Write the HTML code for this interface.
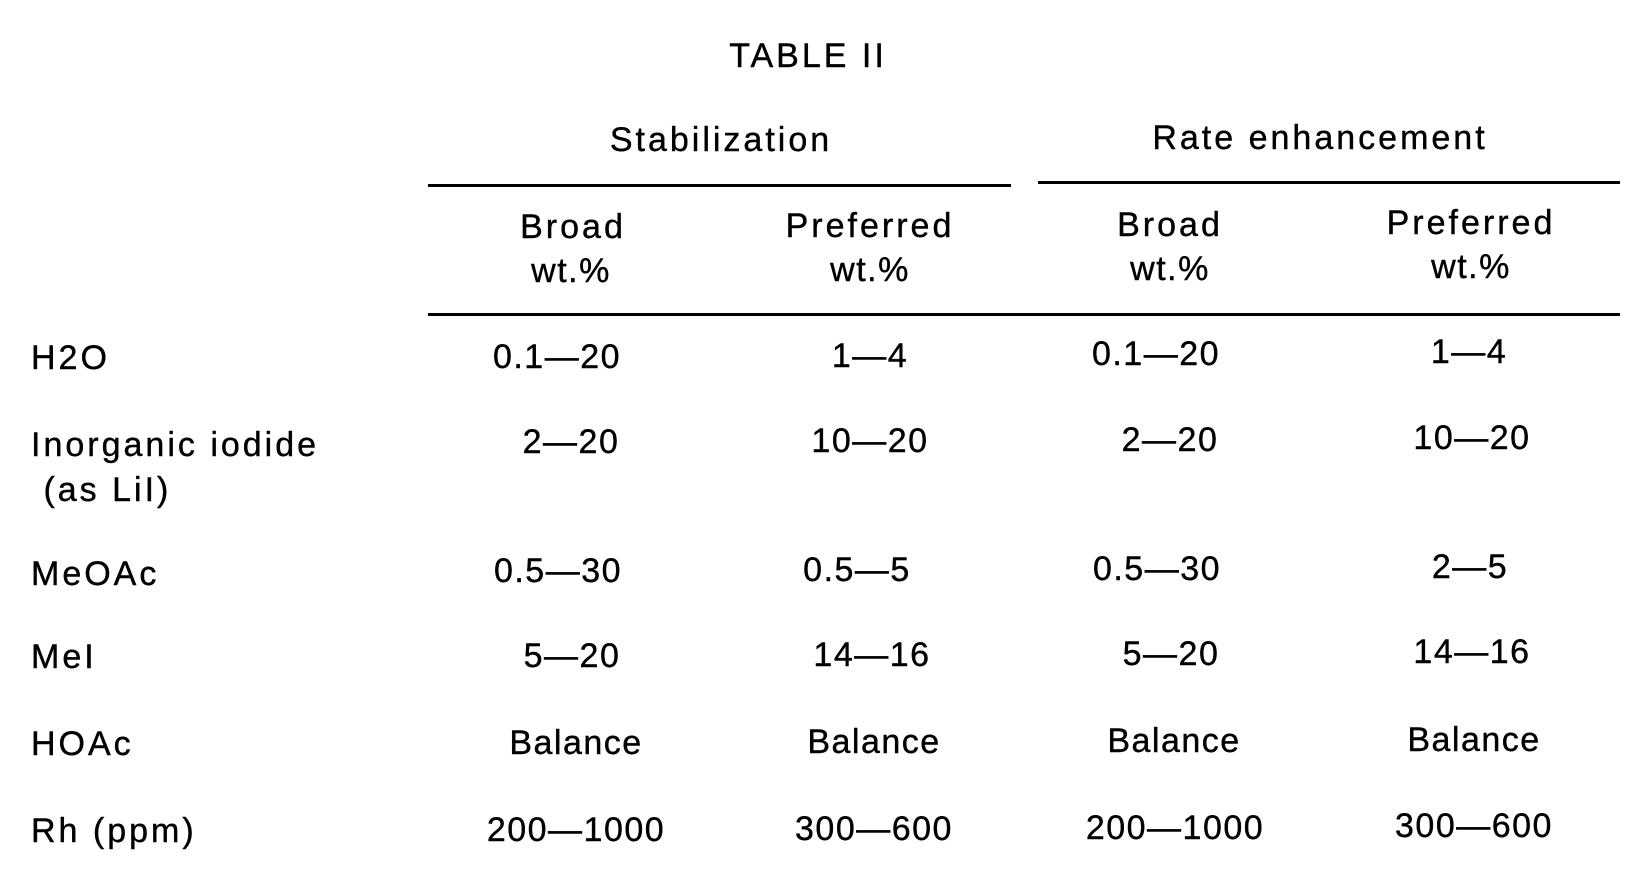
<!DOCTYPE html>
<html><head><meta charset="utf-8"><style>
html,body{margin:0;padding:0;background:#fff;}
body{width:1630px;height:873px;position:relative;overflow:hidden;font-family:"Liberation Sans",sans-serif;color:#000;}
.t{position:absolute;font-size:34px;line-height:1;white-space:nowrap;letter-spacing:1.5px;transform:translate(-50%,-50%);-webkit-text-stroke:0.4px #000;}
.h{letter-spacing:3px;}
.l{position:absolute;font-size:34px;line-height:1;white-space:nowrap;letter-spacing:3px;transform:translateY(-50%);left:31px;-webkit-text-stroke:0.4px #000;}
.ln{position:absolute;height:3px;background:#000;}
</style></head><body>
<div class="t h" style="left:808px;top:56px">TABLE II</div>
<div class="t h" style="left:721px;top:140px">Stabilization</div>
<div class="t h" style="left:1320px;top:138px">Rate enhancement</div>
<div class="ln" style="left:428px;top:184px;width:583px"></div>
<div class="ln" style="left:1038px;top:181px;width:582px"></div>
<div class="t h" style="left:573px;top:227px">Broad</div>
<div class="t h" style="left:870px;top:226px">Preferred</div>
<div class="t h" style="left:1170px;top:225px">Broad</div>
<div class="t h" style="left:1471px;top:223px">Preferred</div>
<div class="t" style="left:571px;top:271px">wt.%</div>
<div class="t" style="left:870px;top:270px">wt.%</div>
<div class="t" style="left:1170px;top:269px">wt.%</div>
<div class="t" style="left:1471px;top:267px">wt.%</div>
<div class="ln" style="left:428px;top:313px;width:1192px"></div>

<div class="l" style="top:358px">H2O</div>
<div class="l" style="top:445px">Inorganic iodide</div>
<div class="l" style="top:490px">&nbsp;(as LiI)</div>
<div class="l" style="top:574px">MeOAc</div>
<div class="l" style="top:657px">MeI</div>
<div class="l" style="top:744px">HOAc</div>
<div class="l" style="top:831px">Rh (ppm)</div>

<div class="t" style="left:557px;top:357px">0.1—20</div>
<div class="t" style="left:870px;top:356px">1—4</div>
<div class="t" style="left:1156px;top:354px">0.1—20</div>
<div class="t" style="left:1469px;top:352px">1—4</div>

<div class="t" style="left:571px;top:442px">2—20</div>
<div class="t" style="left:870px;top:441px">10—20</div>
<div class="t" style="left:1170px;top:440px">2—20</div>
<div class="t" style="left:1472px;top:438px">10—20</div>

<div class="t" style="left:558px;top:571px">0.5—30</div>
<div class="t" style="left:857px;top:570px">0.5—5</div>
<div class="t" style="left:1157px;top:569px">0.5—30</div>
<div class="t" style="left:1470px;top:567px">2—5</div>

<div class="t" style="left:572px;top:656px">5—20</div>
<div class="t" style="left:872px;top:655px">14—16</div>
<div class="t" style="left:1171px;top:654px">5—20</div>
<div class="t" style="left:1472px;top:652px">14—16</div>

<div class="t" style="left:576px;top:743px">Balance</div>
<div class="t" style="left:874px;top:742px">Balance</div>
<div class="t" style="left:1174px;top:741px">Balance</div>
<div class="t" style="left:1474px;top:740px">Balance</div>

<div class="t" style="left:576px;top:830px">200—1000</div>
<div class="t" style="left:874px;top:829px">300—600</div>
<div class="t" style="left:1175px;top:828px">200—1000</div>
<div class="t" style="left:1474px;top:826px">300—600</div>
</body></html>
